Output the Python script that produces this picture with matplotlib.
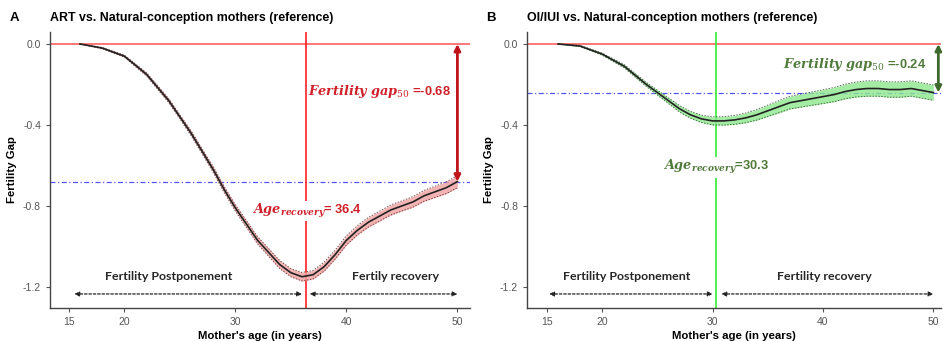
import numpy as np
import matplotlib.pyplot as plt

plt.rcParams['font.family'] = ['Liberation Sans', 'DejaVu Sans']
plt.rcParams['mathtext.fontset'] = 'dejavuserif'

# ---- data ----
ages = [16, 18, 20, 22, 24, 25, 26, 27, 28, 29, 30, 31, 32, 33, 34, 35, 36, 37,
        38, 39, 40, 41, 42, 43, 44, 45, 46, 47, 48, 49, 50]

gap_art = [0.0, -0.02, -0.06, -0.15, -0.28, -0.36, -0.44, -0.53, -0.62, -0.72, -0.81,
           -0.89, -0.97, -1.03, -1.09, -1.13, -1.15, -1.14, -1.10, -1.04, -0.97, -0.92,
           -0.88, -0.85, -0.82, -0.80, -0.78, -0.75, -0.73, -0.71, -0.68]
band_art = [0.0, 0.003, 0.005, 0.008, 0.01, 0.01, 0.012, 0.012, 0.014, 0.015, 0.016,
            0.017, 0.018, 0.019, 0.02, 0.02, 0.021, 0.021, 0.022, 0.022, 0.023, 0.023,
            0.024, 0.024, 0.025, 0.025, 0.026, 0.027, 0.028, 0.029, 0.03]

gap_oi = [0.0, -0.01, -0.05, -0.11, -0.20, -0.24, -0.28, -0.32, -0.35, -0.37, -0.38,
          -0.38, -0.375, -0.365, -0.35, -0.33, -0.31, -0.29, -0.28, -0.27, -0.26, -0.25,
          -0.235, -0.225, -0.22, -0.22, -0.225, -0.225, -0.22, -0.23, -0.24]
band_oi = [0.0, 0.003, 0.005, 0.008, 0.01, 0.012, 0.014, 0.016, 0.017, 0.018, 0.02,
           0.021, 0.022, 0.024, 0.026, 0.028, 0.03, 0.031, 0.032, 0.033, 0.034, 0.035,
           0.036, 0.037, 0.038, 0.038, 0.038, 0.038, 0.038, 0.038, 0.038]

age_recovery = [36.4, 30.3]
gap50 = [-0.68, -0.24]
titles = ['ART vs. Natural-conception mothers (reference)',
          'OI/IUI vs. Natural-conception mothers (reference)']
panel_labels = ['A', 'B']
region_labels = [['Fertility Postponement', 'Fertily recovery'],
                 ['Fertility Postponement', 'Fertility recovery']]

# ---- styling per panel ----
vline_col = ['#ff2020', '#33ee33']
fill_col = ['#f2a0a0', '#8ee88e']
edge_col = ['#5a2a2a', '#2a4a2a']
text_col = ['#d0202a', '#507a3a']
arrow_col = ['#c0141c', '#3f6a2e']
ann_x = [[15.5, 36.0, 36.7, 50.0], [15.2, 30.0, 30.8, 50.0]]
ann_txt_x = [[24.0, 44.4], [22.2, 40.1]]
gap_txt = [(43.0, -0.235), (42.9, -0.10)]
age_txt = [(36.4, -0.825), (30.3, -0.61)]
arrow_x = [50.0, 50.45]

fig = plt.figure(figsize=(9.43, 3.41), dpi=100)
axes = [fig.add_axes([0.053, 0.097, 0.445, 0.809]),
        fig.add_axes([0.559, 0.097, 0.439, 0.809])]
xlims = [(13.3, 51.1), (13.2, 50.7)]

x = np.array(ages)
for i, ax in enumerate(axes):
    y = np.array([gap_art, gap_oi][i])
    b = np.array([band_art, band_oi][i])

    ax.axhline(0, color='#ff6060', lw=1.2, zorder=1)
    ax.axhline(gap50[i], color='#5555ff', lw=0.9, ls=(0, (4, 2, 1, 2)), zorder=1)
    ax.axvline(age_recovery[i], color=vline_col[i], lw=1.2, zorder=1)

    ax.fill_between(x, y - b, y + b, color=fill_col[i], alpha=0.8, lw=0, zorder=2)
    ax.plot(x, y - b, color=edge_col[i], lw=0.7, ls=(0, (1.5, 1.5)), alpha=0.8, zorder=3)
    ax.plot(x, y + b, color=edge_col[i], lw=0.7, ls=(0, (1.5, 1.5)), alpha=0.8, zorder=3)
    ax.plot(x, y, color='#222222', lw=1.2, zorder=4)

    # gap arrow at age 50
    ax.annotate('', xy=(arrow_x[i], gap50[i]), xytext=(arrow_x[i], 0),
                arrowprops=dict(arrowstyle='<|-|>', color=arrow_col[i], lw=2,
                                mutation_scale=9, shrinkA=0, shrinkB=0), zorder=5)
    ax.text(*gap_txt[i], r'$\mathbfit{Fertility\ gap}_{50}$ =' + f'{gap50[i]:.2f}',
            color=text_col[i], fontsize=9.3, fontweight='bold', ha='center', va='center')
    ax.text(*age_txt[i], r'$\mathbfit{Age}_{\mathbfit{recovery}}$' +
            ('= ' if i == 0 else '=') + f'{age_recovery[i]:.1f}',
            color=text_col[i], fontsize=9.3, fontweight='bold', ha='center', va='center',
            bbox=dict(facecolor='white', edgecolor='none', pad=1), zorder=6)

    # postponement / recovery arrows
    ya = -1.235
    for a0, a1 in [(ann_x[i][0], ann_x[i][1]), (ann_x[i][2], ann_x[i][3])]:
        ax.annotate('', xy=(a1, ya), xytext=(a0, ya),
                    arrowprops=dict(arrowstyle='<|-|>', color='#222222', lw=0.9,
                                    ls=(0, (2, 1.5)), mutation_scale=7,
                                    shrinkA=0, shrinkB=0), zorder=5)
    for tx, lab in zip(ann_txt_x[i], region_labels[i]):
        ax.text(tx, -1.15, lab, fontsize=8.9, fontweight='bold', color='#262626',
                ha='center', va='center', family=['Lato', 'DejaVu Sans'])

    ax.set_xlim(*xlims[i])
    ax.set_ylim(-1.304, 0.059)
    ax.set_xticks([15, 20, 30, 40, 50])
    ax.set_yticks([0.0, -0.4, -0.8, -1.2])
    ax.set_yticklabels(['0.0', '-0.4', '-0.8', '-1.2'])
    ax.tick_params(labelsize=7.5, colors='#555555', length=3, width=0.8)
    for s in ['top', 'right']:
        ax.spines[s].set_visible(False)
    for s in ['left', 'bottom']:
        ax.spines[s].set_color('#444444')
        ax.spines[s].set_linewidth(1.0)
    ax.set_xlabel("Mother's age (in years)", fontsize=8.2, fontweight='bold', labelpad=3)
    ax.set_ylabel('Fertility Gap', fontsize=8.2, fontweight='bold', labelpad=4)

fig.text(0.010, 0.947, panel_labels[0], fontsize=9.5, fontweight='bold', va='center')
fig.text(0.053, 0.947, titles[0], fontsize=8.9, fontweight='bold', va='center')
fig.text(0.515, 0.947, panel_labels[1], fontsize=9.5, fontweight='bold', va='center')
fig.text(0.559, 0.947, titles[1], fontsize=8.9, fontweight='bold', va='center')

fig.savefig('out.png', dpi=100)
